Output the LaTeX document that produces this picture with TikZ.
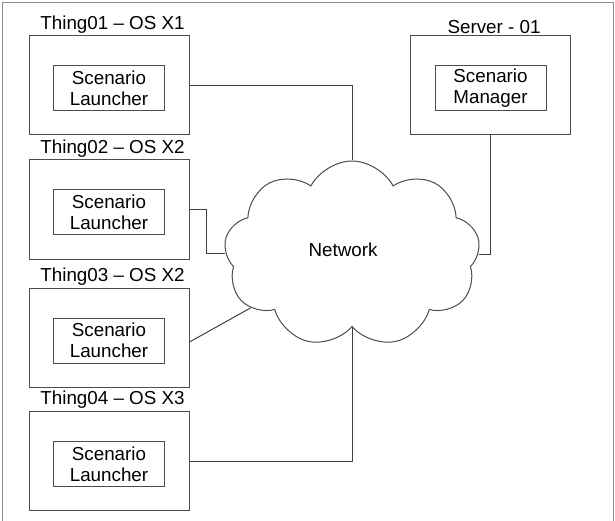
\documentclass[tikz,border=0pt]{standalone}
\usepackage{fontspec}
\setmainfont{Liberation Sans}
\usetikzlibrary{positioning,shapes.symbols}
\tikzset{
    hostbox/.style={draw=black!70, line width=1pt, minimum width=160pt, minimum height=99pt},
    appbox/.style={draw=black!70, line width=1pt, minimum width=111pt, minimum height=45pt,
        inner sep=0pt, align=center},
    title/.style={inner sep=0pt},
    link/.style={draw=black!75, line width=1pt},
}
\newcommand\HostBox[5]{%
    \node[hostbox] (#1) at (#2,#3) {};
    \node[title, above=2pt of #1, xshift=3.5pt] (#1title) {#4};
    \node[appbox] (#1app) at (#2,{#3+3}) {#5};
}

\begin{document}
\begin{tikzpicture}[x=1pt,y=-1pt,font=\fontsize{18.8}{21}\selectfont]
    \useasboundingbox (0,0) rectangle (615,521);
    \draw[black!45, line width=1pt] (2,521) -- (2,3) -- (613,3) -- (613,521);
    % things
    \HostBox{thing1}{109}{85.5}{Thing01 -- OS X1}{Scenario\\Launcher}
    \HostBox{thing2}{109}{209.5}{Thing02 -- OS X2}{Scenario\\Launcher}
    \HostBox{thing3}{109}{337.5}{Thing03 -- OS X2}{Scenario\\Launcher}
    \HostBox{thing4}{109}{461}{Thing04 -- OS X3}{Scenario\\Launcher}
    % server
    \HostBox{server}{490.5}{85.5}{Server - 01}{Scenario\\Manager}
    % network
    \node[cloud, draw=black!70, line width=1pt, cloud puffs=9, cloud puff arc=125, aspect=1.4,
        minimum width=256pt, minimum height=186pt, inner sep=0pt] (net) at (352,254) {};
    \node (nettext) at (343,250) {Network};
    \draw[link] (thing1.east) -| (net.north);
    \draw[link] (thing2.east) -- ++(17,0) |- (net.west);
    \draw[link] ([yshift=-4.5pt]thing3.east) -- (net.208);
    \draw[link] (thing4.east) -| (net.south);
    \draw[link] (server.south) |- (net.east);
\end{tikzpicture}
\end{document}
